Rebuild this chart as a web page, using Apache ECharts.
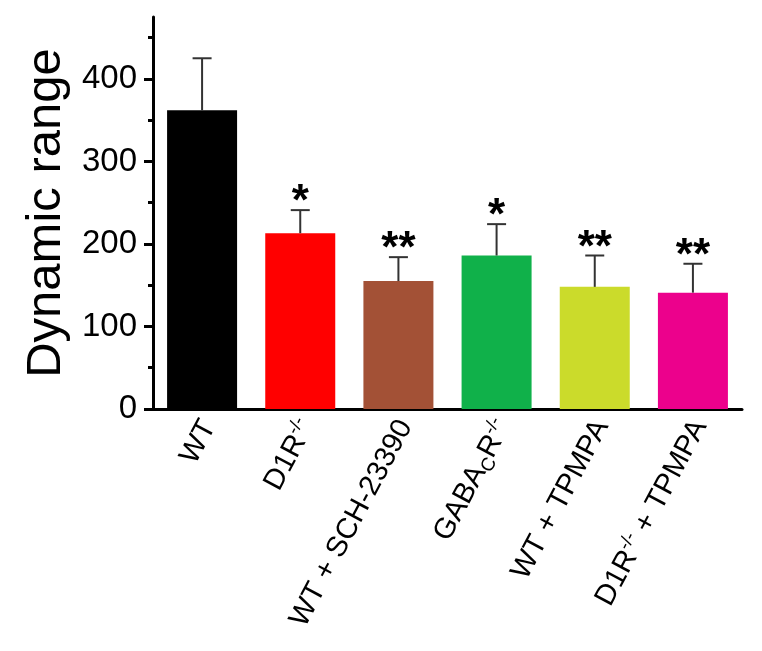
<!DOCTYPE html>
<html>
<head>
<meta charset="utf-8">
<script src="https://cdn.jsdelivr.net/npm/echarts@6/dist/echarts.min.js"></script>
<style>
html,body{margin:0;padding:0;background:#fff;}
#chart{width:762px;height:651px;}
</style>
</head>
<body>
<div id="chart"></div>
<script>
const categories = ['WT', 'D1R-/-', 'WT + SCH-23390', 'GABAC R-/-', 'WT + TPMPA', 'D1R-/- + TPMPA'];
const tickLabels = ['WT', 'D1R{sup|-/-}', 'WT + SCH-23390', 'GABA{sub|C}R{sup|-/-}', 'WT + TPMPA', 'D1R{sup|-/-} + TPMPA'];
const means = [362, 213, 155, 186, 148, 141];
const errorTops = [425, 241, 184, 224, 186, 176];
const stars = ['', '*', '**', '*', '**', '**'];
const colors = ['#000000', '#ff0000', '#a35136', '#10b14a', '#cbdb2b', '#ec018c'];
const majorTicks = [0, 100, 200, 300, 400];
const minorTicks = [50, 150, 250, 350, 450];

const chart = echarts.init(document.getElementById('chart'));
const font = 'Liberation Sans, Arial, sans-serif';

chart.setOption({
  animation: false,
  grid: [
    { left: 153, right: 20, top: 17, bottom: 242, containLabel: false },
    { left: 160, right: 13, top: 17, bottom: 242, containLabel: false }
  ],
  xAxis: [{
    type: 'category',
    gridIndex: 0,
    data: categories,
    axisLine: { lineStyle: { color: '#000', width: 3 } },
    axisTick: { show: false },
    axisLabel: { show: false }
  }, {
    type: 'category',
    gridIndex: 1,
    data: categories,
    axisLine: { show: false },
    axisTick: { show: false },
    axisLabel: {
      rotate: 62,
      margin: 13,
      color: '#000',
      fontFamily: font,
      fontSize: 29,
      lineHeight: 34,
      formatter: (v, i) => tickLabels[i],
      rich: {
        sup: { fontSize: 18, lineHeight: 34, verticalAlign: 'top', fontFamily: font, color: '#000' },
        sub: { fontSize: 19, lineHeight: 34, verticalAlign: 'bottom', fontFamily: font, color: '#000' }
      }
    }
  }],
  yAxis: [{
    type: 'value',
    gridIndex: 0,
    min: 0,
    max: 475,
    name: 'Dynamic range',
    nameLocation: 'middle',
    nameGap: 82,
    nameMoveOverlap: false,
    nameTextStyle: { fontSize: 49, fontFamily: font, color: '#000' },
    axisLine: { show: true, lineStyle: { color: '#000', width: 3 } },
    axisTick: { show: true, length: 9, lineStyle: { width: 3, color: '#000' }, customValues: majorTicks },
    axisLabel: { color: '#000', fontSize: 33, fontFamily: font, margin: 16, customValues: majorTicks },
    splitLine: { show: false }
  }, {
    type: 'value',
    gridIndex: 0,
    min: 0,
    max: 475,
    position: 'left',
    axisLine: { show: false },
    axisTick: { show: true, length: 5, lineStyle: { width: 3, color: '#000' }, customValues: minorTicks },
    axisLabel: { show: false },
    splitLine: { show: false }
  }, {
    type: 'value',
    gridIndex: 1,
    min: 0,
    max: 475,
    show: false
  }],
  series: [{
    type: 'bar',
    xAxisIndex: 0,
    yAxisIndex: 0,
    data: means.map((v, i) => ({ value: v, itemStyle: { color: colors[i] } })),
    barWidth: 70
  }, {
    type: 'custom',
    xAxisIndex: 0,
    yAxisIndex: 0,
    data: means.map((v, i) => [i, v, errorTops[i], stars[i]]),
    z: 10,
    renderItem: function (params, api) {
      const i = api.value(0);
      const base = api.coord([i, api.value(1)]);
      const top = api.coord([i, api.value(2)]);
      const s = stars[params.dataIndex];
      const children = [
        { type: 'line', shape: { x1: base[0], y1: base[1], x2: top[0], y2: top[1] }, style: { stroke: '#333', lineWidth: 2 } },
        { type: 'line', shape: { x1: top[0] - 9.5, y1: top[1], x2: top[0] + 9.5, y2: top[1] }, style: { stroke: '#333', lineWidth: 2 } }
      ];
      if (s) {
        children.push({
          type: 'text',
          x: top[0],
          y: top[1] + 15,
          style: { text: s, fontSize: 44, fontWeight: 'bold', fontFamily: font, fill: '#000', align: 'center', verticalAlign: 'bottom' }
        });
      }
      return { type: 'group', children: children };
    }
  }]
});
</script>
</body>
</html>
